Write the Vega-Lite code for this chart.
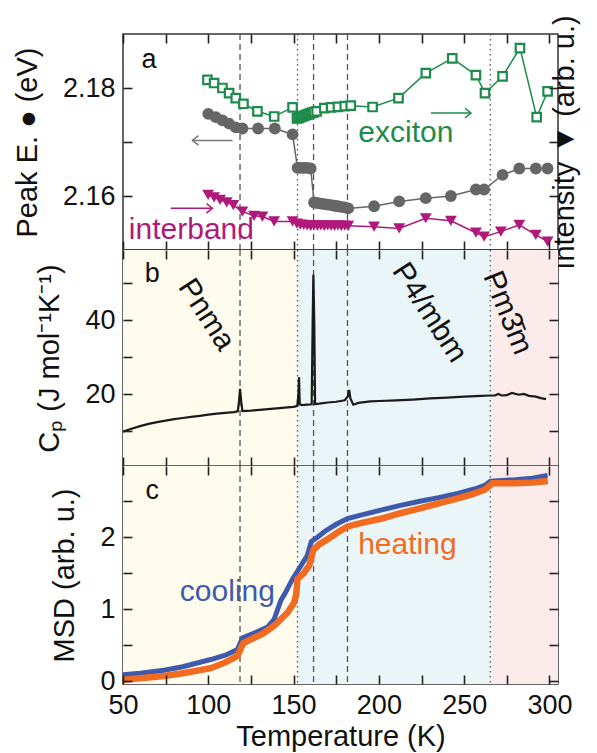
{
"$schema":"https://vega.github.io/schema/vega-lite/v6.json",
"padding":{"left":12,"top":14,"right":5,"bottom":5},
"background":"white",
"spacing":0,
"bounds":"flush",
"datasets":{
"vlines":[{"T":118.6,"style":"dashed"},{"T":152.3,"style":"dotted"},{"T":161.7,"style":"dashed"},{"T":181.6,"style":"dashed"},{"T":265.3,"style":"dotted"}],
"bands":[{"T":50,"T2":152.3,"phase":"Pnma"},{"T":152.3,"T2":265.8,"phase":"P4/mbm"},{"T":265.8,"T2":305,"phase":"Pm3m"}],
"peak":[{"T":100,"E":2.1752},{"T":104.4,"E":2.1746},{"T":108.3,"E":2.174},{"T":112.2,"E":2.1734},{"T":116.1,"E":2.1727},{"T":120,"E":2.1725},{"T":129.2,"E":2.1725},{"T":139,"E":2.1725},{"T":149.4,"E":2.1714},{"T":152.3,"E":2.1652},{"T":154,"E":2.1652},{"T":156,"E":2.1652},{"T":158,"E":2.1652},{"T":160,"E":2.1651},{"T":162,"E":2.1588},{"T":164,"E":2.1587},{"T":166,"E":2.1586},{"T":168,"E":2.1585},{"T":170,"E":2.1584},{"T":172,"E":2.1583},{"T":174,"E":2.1582},{"T":176,"E":2.1581},{"T":178,"E":2.158},{"T":180,"E":2.1579},{"T":182,"E":2.1577},{"T":197.2,"E":2.1581},{"T":211.9,"E":2.159},{"T":227.5,"E":2.1596},{"T":242.2,"E":2.16},{"T":256.9,"E":2.1612},{"T":261.7,"E":2.1612},{"T":272.5,"E":2.1639},{"T":282.3,"E":2.1651},{"T":292,"E":2.1651},{"T":298.9,"E":2.1651}],
"exc":[{"T":99.5,"I":0.788},{"T":103.4,"I":0.773},{"T":108.3,"I":0.75},{"T":112.2,"I":0.726},{"T":116.1,"I":0.703},{"T":120.6,"I":0.677},{"T":128.8,"I":0.642},{"T":138.6,"I":0.618},{"T":149.4,"I":0.66},{"T":152,"I":0.609},{"T":153,"I":0.612},{"T":154,"I":0.615},{"T":155,"I":0.618},{"T":156,"I":0.621},{"T":157,"I":0.624},{"T":158,"I":0.627},{"T":159,"I":0.63},{"T":160,"I":0.633},{"T":161,"I":0.636},{"T":162,"I":0.638},{"T":163.5,"I":0.642},{"T":168,"I":0.657},{"T":172,"I":0.66},{"T":176,"I":0.663},{"T":180,"I":0.666},{"T":183.5,"I":0.668},{"T":196.3,"I":0.662},{"T":211.5,"I":0.703},{"T":227.5,"I":0.819},{"T":243,"I":0.887},{"T":256.9,"I":0.81},{"T":262.2,"I":0.726},{"T":272.5,"I":0.804},{"T":282.7,"I":0.935},{"T":292.5,"I":0.615},{"T":298.9,"I":0.734}],
"inter":[{"T":99.9,"I":0.255},{"T":103.4,"I":0.244},{"T":106.9,"I":0.232},{"T":110.8,"I":0.22},{"T":114.7,"I":0.208},{"T":120,"I":0.178},{"T":126.8,"I":0.158},{"T":131.7,"I":0.155},{"T":138.6,"I":0.132},{"T":149.4,"I":0.132},{"T":152,"I":0.122},{"T":154,"I":0.118},{"T":156,"I":0.116},{"T":158,"I":0.114},{"T":160,"I":0.112},{"T":162,"I":0.115},{"T":164,"I":0.113},{"T":166,"I":0.114},{"T":168,"I":0.112},{"T":170,"I":0.114},{"T":172,"I":0.113},{"T":174,"I":0.112},{"T":176,"I":0.114},{"T":178,"I":0.112},{"T":180,"I":0.113},{"T":182,"I":0.112},{"T":197.2,"I":0.108},{"T":211.9,"I":0.1},{"T":227.5,"I":0.147},{"T":242.2,"I":0.135},{"T":256.9,"I":0.08},{"T":261.7,"I":0.062},{"T":271.5,"I":0.085},{"T":282.3,"I":0.116},{"T":292,"I":0.07},{"T":298.9,"I":0.039}],
"cp":[{"T":50,"Cp":9.8},{"T":55,"Cp":10.6},{"T":60,"Cp":11.3},{"T":65,"Cp":11.9},{"T":70,"Cp":12.4},{"T":75,"Cp":12.8},{"T":80,"Cp":13.2},{"T":85,"Cp":13.5},{"T":90,"Cp":13.8},{"T":95,"Cp":14.1},{"T":100,"Cp":14.4},{"T":105,"Cp":14.7},{"T":110,"Cp":14.9},{"T":115,"Cp":15.1},{"T":117.3,"Cp":15.3},{"T":118,"Cp":18},{"T":118.6,"Cp":21.4},{"T":119.3,"Cp":18},{"T":120,"Cp":15.4},{"T":125,"Cp":15.5},{"T":130,"Cp":15.7},{"T":135,"Cp":15.9},{"T":140,"Cp":16.1},{"T":145,"Cp":16.3},{"T":150,"Cp":16.5},{"T":152.2,"Cp":16.8},{"T":152.8,"Cp":20},{"T":153.2,"Cp":24.5},{"T":153.6,"Cp":17.2},{"T":155,"Cp":17},{"T":158,"Cp":17.1},{"T":160.6,"Cp":17.2},{"T":161.2,"Cp":40},{"T":161.6,"Cp":52.3},{"T":162.1,"Cp":40},{"T":162.6,"Cp":17.3},{"T":165,"Cp":17.4},{"T":170,"Cp":17.7},{"T":175,"Cp":17.9},{"T":180,"Cp":18.3},{"T":182,"Cp":19.5},{"T":182.6,"Cp":21.1},{"T":183.3,"Cp":18.8},{"T":185,"Cp":17.1},{"T":188,"Cp":17.6},{"T":195,"Cp":18},{"T":200,"Cp":18.1},{"T":210,"Cp":18.3},{"T":220,"Cp":18.5},{"T":230,"Cp":18.8},{"T":240,"Cp":19},{"T":250,"Cp":19.3},{"T":260,"Cp":19.5},{"T":265,"Cp":19.6},{"T":268,"Cp":19.6},{"T":270,"Cp":20},{"T":272,"Cp":19.6},{"T":275,"Cp":19.7},{"T":278,"Cp":20.3},{"T":282,"Cp":19.8},{"T":285,"Cp":20},{"T":288,"Cp":19.5},{"T":292,"Cp":19.3},{"T":295,"Cp":18.9},{"T":298,"Cp":18.6}],
"cool":[{"T":50,"M":0.09},{"T":60,"M":0.11},{"T":74,"M":0.15},{"T":85,"M":0.2},{"T":101.4,"M":0.3},{"T":110,"M":0.36},{"T":117.1,"M":0.44},{"T":120,"M":0.6},{"T":128,"M":0.68},{"T":134.7,"M":0.75},{"T":138.6,"M":0.86},{"T":142.5,"M":1.12},{"T":145,"M":1.22},{"T":149.4,"M":1.42},{"T":154.2,"M":1.6},{"T":158.1,"M":1.75},{"T":160.4,"M":1.94},{"T":164,"M":2.0},{"T":168.2,"M":2.08},{"T":175,"M":2.18},{"T":181.6,"M":2.26},{"T":190,"M":2.31},{"T":201.7,"M":2.38},{"T":212,"M":2.44},{"T":224,"M":2.5},{"T":235,"M":2.55},{"T":246.3,"M":2.61},{"T":256,"M":2.67},{"T":262,"M":2.72},{"T":265.4,"M":2.78},{"T":272,"M":2.79},{"T":279.9,"M":2.8},{"T":290,"M":2.82},{"T":298.9,"M":2.86}],
"heat":[{"T":50,"M":0.02},{"T":60,"M":0.04},{"T":74,"M":0.07},{"T":85,"M":0.11},{"T":101.4,"M":0.18},{"T":110,"M":0.26},{"T":117.1,"M":0.35},{"T":120.6,"M":0.53},{"T":125,"M":0.58},{"T":132,"M":0.66},{"T":138.6,"M":0.77},{"T":146.4,"M":0.95},{"T":150.3,"M":1.09},{"T":151.5,"M":1.2},{"T":152.3,"M":1.42},{"T":156,"M":1.5},{"T":159.2,"M":1.61},{"T":161.5,"M":1.82},{"T":165,"M":1.9},{"T":170.4,"M":1.98},{"T":176,"M":2.07},{"T":181.6,"M":2.15},{"T":190,"M":2.2},{"T":201.7,"M":2.26},{"T":212,"M":2.33},{"T":224,"M":2.4},{"T":235,"M":2.47},{"T":246.3,"M":2.54},{"T":255,"M":2.6},{"T":262.1,"M":2.66},{"T":266.6,"M":2.75},{"T":280,"M":2.75},{"T":290,"M":2.76},{"T":299,"M":2.78}]
},
"vconcat":[
{
"width":435,"height":216,
"layer":[
{
"encoding":{"x":{"field":"T","type":"quantitative","scale":{"domain":[50,305],"nice":false,"zero":false},"axis":null}},
"layer":[
{"data":{"name":"vlines"},"mark":{"type":"rule","color":"#555","strokeWidth":1.3},"encoding":{"strokeDash":{"field":"style","type":"nominal","scale":{"domain":["dashed","dotted"],"range":[[6,4],[1.5,3.5]]},"legend":null}}}
]
},
{
"encoding":{"x":{"field":"T","type":"quantitative","scale":{"domain":[50,305],"nice":false,"zero":false},"axis":{"orient":"bottom","zindex":1,"values":[50,75,100,125,150,175,200,225,250,275,300],"labels":false,"title":null}},
"y":{"field":"E","type":"quantitative","scale":{"domain":[2.15,2.19],"nice":false,"zero":false},"axis":{"orient":"left","zindex":1,"values":[2.16,2.17,2.18],"labelExpr":"datum.value === 2.17 ? '' : format(datum.value, '.2f')","title":"Peak E. ● (eV)"}}},
"layer":[
{"data":{"name":"peak"},"mark":{"type":"line","color":"#666","strokeWidth":1.5}},
{"data":{"name":"peak"},"mark":{"type":"circle","color":"#666","size":140,"opacity":1}},
{"data":{"values":[{"T":114.2,"T2":90.7,"E":2.1703}]},"mark":{"type":"rule","color":"#777","strokeWidth":1.5},"encoding":{"x2":{"field":"T2"}}},
{"data":{"values":[{"T":90.7,"E":2.1703}]},"mark":{"type":"point","shape":"M1,-0.8L0,0L1,0.8","filled":false,"size":144,"color":"#777","strokeWidth":1.5,"opacity":1}},
{"data":{"values":[{"T":65.2,"E":2.1852,"label":"a"}]},"mark":{"type":"text","fontSize":27,"color":"#111"},"encoding":{"text":{"field":"label"}}}
]
},
{
"encoding":{"x":{"field":"T","type":"quantitative","scale":{"domain":[50,305],"nice":false,"zero":false},"axis":{"orient":"top","zindex":1,"values":[50,75,100,125,150,175,200,225,250,275,300],"labels":false,"title":null}},
"y":{"field":"I","type":"quantitative","scale":{"domain":[0,1],"nice":false,"zero":false},"axis":{"orient":"right","zindex":1,"values":[0.25,0.5,0.75],"labels":false,"title":"Intensity ▼ (arb. u.)","titleAngle":270,"titleBaseline":"top"}}},
"layer":[
{"data":{"name":"exc"},"mark":{"type":"line","color":"#1d8c4b","strokeWidth":1.5}},
{"data":{"name":"exc"},"mark":{"type":"point","shape":"square","filled":false,"fill":"white","stroke":"#1d8c4b","strokeWidth":2.2,"size":72,"opacity":1}},
{"data":{"name":"inter"},"mark":{"type":"line","color":"#b0197a","strokeWidth":1.5}},
{"data":{"name":"inter"},"mark":{"type":"point","shape":"triangle-down","filled":true,"color":"#b0197a","size":140,"opacity":1}},
{"data":{"values":[{"T":230.5,"T2":254,"I":0.634}]},"mark":{"type":"rule","strokeWidth":1.5,"color":"#1d8c4b"},"encoding":{"x2":{"field":"T2"}}},
{"data":{"values":[{"T":254,"I":0.634}]},"mark":{"type":"point","shape":"M-1,-0.8L0,0L-1,0.8","filled":false,"size":144,"strokeWidth":1.5,"opacity":1,"color":"#1d8c4b"}},
{"data":{"values":[{"T":78,"T2":102.4,"I":0.193}]},"mark":{"type":"rule","strokeWidth":1.5,"color":"#b0197a"},"encoding":{"x2":{"field":"T2"}}},
{"data":{"values":[{"T":102.4,"I":0.193}]},"mark":{"type":"point","shape":"M-1,-0.8L0,0L-1,0.8","filled":false,"size":144,"strokeWidth":1.5,"opacity":1,"color":"#b0197a"}},
{"data":{"values":[{"T":215.8,"I":0.541,"s":"exciton"}]},"mark":{"type":"text","fontSize":30,"baseline":"middle","color":"#1d8c4b"},"encoding":{"text":{"field":"s"}}},
{"data":{"values":[{"T":90.1,"I":0.093,"s":"interband"}]},"mark":{"type":"text","fontSize":30,"baseline":"middle","color":"#b0197a"},"encoding":{"text":{"field":"s"}}}
]
}
],
"resolve":{"scale":{"y":"independent"},"axis":{"x":"independent","y":"independent"}}
},
{
"width":435,"height":216,
"layer":[
{
"encoding":{"x":{"field":"T","type":"quantitative","scale":{"domain":[50,305],"nice":false,"zero":false},"axis":null}},
"layer":[
{"data":{"name":"bands"},"mark":{"type":"rect"},"encoding":{"x2":{"field":"T2"},"fill":{"field":"phase","type":"nominal","scale":{"domain":["Pnma","P4/mbm","Pm3m"],"range":["#fffcee","#eaf5f8","#fcebeb"]},"legend":null}}},
{"data":{"name":"vlines"},"mark":{"type":"rule","color":"#555","strokeWidth":1.3},"encoding":{"strokeDash":{"field":"style","type":"nominal","scale":{"domain":["dashed","dotted"],"range":[[6,4],[1.5,3.5]]},"legend":null}}}
]
},
{
"encoding":{"x":{"field":"T","type":"quantitative","scale":{"domain":[50,305],"nice":false,"zero":false},"axis":{"orient":"bottom","zindex":1,"values":[50,75,100,125,150,175,200,225,250,275,300],"labels":false,"title":null}},
"y":{"field":"Cp","type":"quantitative","scale":{"domain":[0.5,59],"nice":false,"zero":false},"axis":{"orient":"left","zindex":1,"values":[10,20,30,40,50],"labelExpr":"datum.value % 20 === 0 ? datum.label : ''","title":"Cₚ (J mol⁻¹K⁻¹)"}}},
"layer":[
{"data":{"name":"cp"},"mark":{"type":"line","color":"#1a1a1a","strokeWidth":2.2}},
{"data":{"values":[{"T":67.2,"Cp":52.4,"label":"b"}]},"mark":{"type":"text","fontSize":27,"color":"#111"},"encoding":{"text":{"field":"label"}}}
]
},
{
"encoding":{"x":{"field":"T","type":"quantitative","scale":{"domain":[50,305],"nice":false,"zero":false},"axis":{"orient":"top","zindex":1,"values":[50,75,100,125,150,175,200,225,250,275,300],"labels":false,"title":null}},
"y":{"field":"Cp","type":"quantitative","scale":{"domain":[0.5,59],"nice":false,"zero":false},"axis":{"orient":"right","zindex":1,"values":[10,20,30,40,50],"labels":false,"title":null}},"text":{"field":"label"}},
"layer":[
{"data":{"values":[{"T":98.9,"Cp":41.5,"label":"Pnma"}]},"mark":{"type":"text","angle":57,"fontSize":30,"color":"#111"}},
{"data":{"values":[{"T":229.6,"Cp":42,"label":"P4/mbm"}]},"mark":{"type":"text","angle":57,"fontSize":30,"color":"#111"}},
{"data":{"values":[{"T":275.4,"Cp":42,"label":"Pm3̄m"}]},"mark":{"type":"text","angle":68,"fontSize":30,"color":"#111"}}
]
}
],
"resolve":{"axis":{"x":"independent","y":"independent"}}
},
{
"width":435,"height":218,
"layer":[
{
"encoding":{"x":{"field":"T","type":"quantitative","scale":{"domain":[50,305],"nice":false,"zero":false},"axis":null}},
"layer":[
{"data":{"name":"bands"},"mark":{"type":"rect"},"encoding":{"x2":{"field":"T2"},"fill":{"field":"phase","type":"nominal","scale":{"domain":["Pnma","P4/mbm","Pm3m"],"range":["#fffcee","#eaf5f8","#fcebeb"]},"legend":null}}},
{"data":{"name":"vlines"},"mark":{"type":"rule","color":"#555","strokeWidth":1.3},"encoding":{"strokeDash":{"field":"style","type":"nominal","scale":{"domain":["dashed","dotted"],"range":[[6,4],[1.5,3.5]]},"legend":null}}}
]
},
{
"encoding":{"x":{"field":"T","type":"quantitative","scale":{"domain":[50,305],"nice":false,"zero":false},"axis":{"orient":"bottom","zindex":1,"values":[50,75,100,125,150,175,200,225,250,275,300],"labelExpr":"datum.value % 50 === 0 ? datum.label : ''","title":"Temperature (K)"}},
"y":{"field":"M","type":"quantitative","scale":{"domain":[-0.04,2.99],"nice":false,"zero":false},"axis":{"orient":"left","zindex":1,"values":[0,0.5,1,1.5,2,2.5],"labelExpr":"datum.value % 1 === 0 ? format(datum.value, 'd') : ''","title":"MSD (arb. u.)"}}},
"layer":[
{"data":{"name":"cool"},"mark":{"type":"line","color":"#3d5aad","strokeWidth":5}},
{"data":{"name":"heat"},"mark":{"type":"line","color":"#f26b21","strokeWidth":6.5}},
{"data":{"values":[{"T":67.2,"M":2.64,"label":"c"}]},"mark":{"type":"text","fontSize":27,"color":"#111"},"encoding":{"text":{"field":"label"}}}
]
},
{
"encoding":{"x":{"field":"T","type":"quantitative","scale":{"domain":[50,305],"nice":false,"zero":false},"axis":{"orient":"top","zindex":1,"values":[50,75,100,125,150,175,200,225,250,275,300],"labels":false,"title":null}},
"y":{"field":"M","type":"quantitative","scale":{"domain":[-0.04,2.99],"nice":false,"zero":false},"axis":{"orient":"right","zindex":1,"values":[0,0.5,1,1.5,2,2.5],"labels":false,"title":null}},"text":{"field":"s"}},
"layer":[
{"data":{"values":[{"T":111.2,"M":1.234,"s":"cooling"}]},"mark":{"type":"text","fontSize":30,"baseline":"middle","color":"#3d5aad"}},
{"data":{"values":[{"T":216.7,"M":1.89,"s":"heating"}]},"mark":{"type":"text","fontSize":30,"baseline":"middle","color":"#f26b21"}}
]
}
],
"resolve":{"axis":{"x":"independent","y":"independent"}}
}
],
"config":{
"view":{"stroke":"#333","strokeWidth":1.5},
"axis":{"domain":false,"grid":false,"ticks":true,"tickColor":"#222","tickWidth":1.6,"tickSize":9,"offset":-9,"labelFont":"Liberation Sans","labelFontSize":27,"labelColor":"#111","labelPadding":8,"labelFlush":false,"labelOverlap":false,"titleFont":"Liberation Sans","titleFontSize":29,"titleFontWeight":"normal","titleColor":"#111"},
"axisLeft":{"titlePadding":20},
"axisBottom":{"titlePadding":4},
"axisRight":{"titlePadding":-8},
"text":{"font":"Liberation Sans"}
}
}
